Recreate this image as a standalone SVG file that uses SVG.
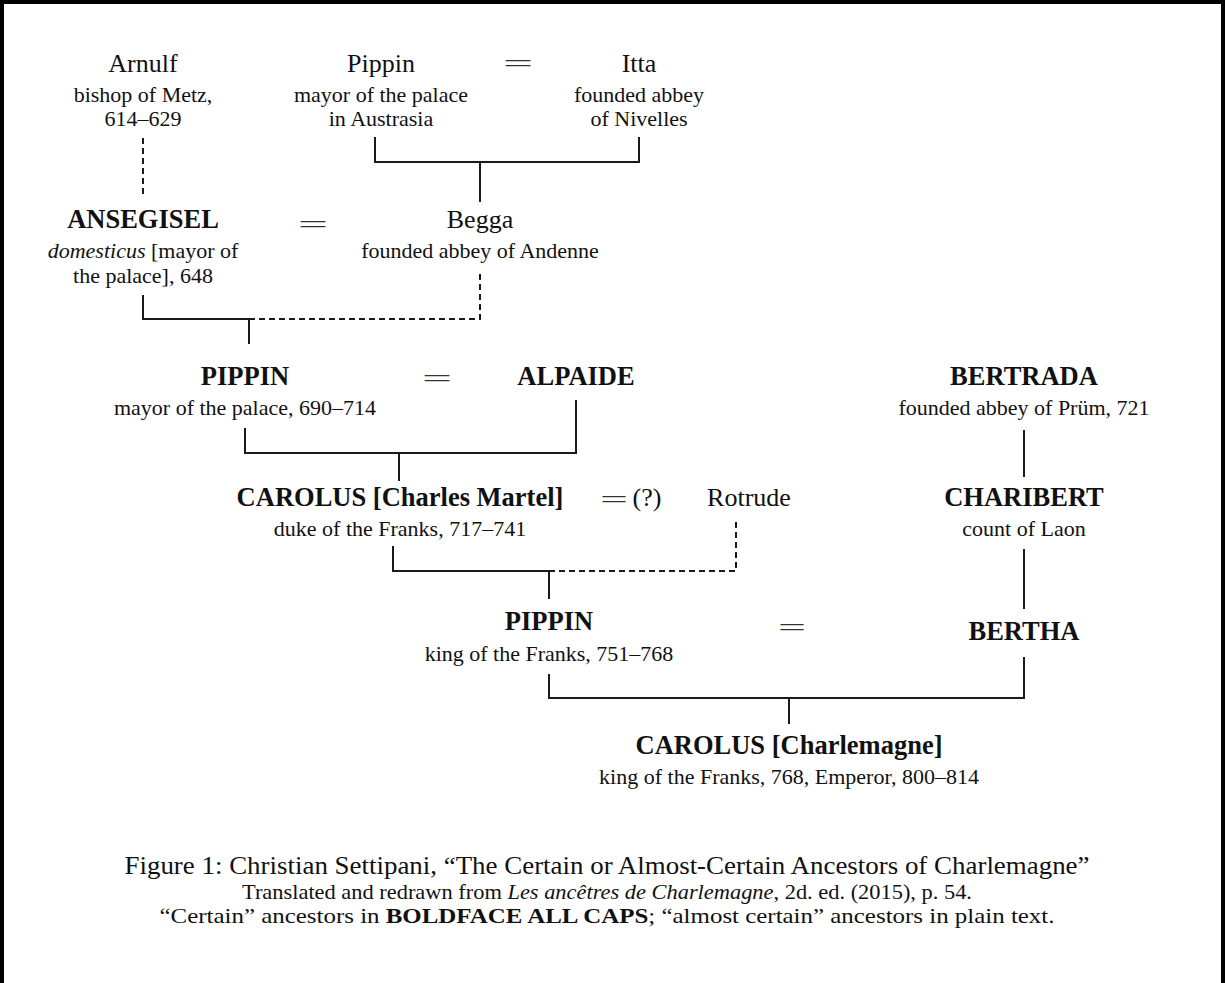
<svg xmlns="http://www.w3.org/2000/svg" width="1225" height="983" viewBox="0 0 1225 983">
<style>
text{font-family:"Liberation Serif","Times New Roman",serif;fill:#111;text-anchor:middle}
.n{font-size:26px}
.b{font-size:26.5px;font-weight:bold}
.s{font-size:22px}
.eq{font-size:26px;fill:#333}
.c1{font-size:25px}
.c2{font-size:21.5px}
.ln{fill:none;stroke:#1a1a1a;stroke-width:2}
.ds{fill:none;stroke:#1a1a1a;stroke-width:2;stroke-dasharray:6 4}
.frame{fill:none;stroke:#000;stroke-width:8}
</style>
<rect width="1225" height="983" fill="#fff"/>
<path class="frame" d="M0,1000 V0 H1225 V1000"/>

<g id="connectors">
  <path class="ds" d="M143,138 V198"/>
  <path class="ln" d="M375,137 V162 H639 V137 M480,162 V202"/>
  <path class="ln" d="M143,295 V319 H249 M249,319 V344"/>
  <path class="ds" d="M249,319 H480 V270"/>
  <path class="ln" d="M245,428 V453 H576 V400 M399,453 V481"/>
  <path class="ln" d="M393,546 V571 H549 M549,571 V599"/>
  <path class="ds" d="M549,571 H736 V522"/>
  <path class="ln" d="M1024,430 V477 M1024,549 V609"/>
  <path class="ln" d="M549,674 V698 H1024 V657 M789,698 V724"/>
</g>

<g id="marriages">
  <text class="eq" x="518" y="72" textLength="30" lengthAdjust="spacingAndGlyphs">=</text>
  <text class="eq" x="313" y="233" textLength="30" lengthAdjust="spacingAndGlyphs">=</text>
  <text class="eq" x="437" y="387" textLength="30" lengthAdjust="spacingAndGlyphs">=</text>
  <text class="eq" x="614" y="508" textLength="28" lengthAdjust="spacingAndGlyphs">=</text>
  <text class="n" x="647" y="506">(?)</text>
  <text class="eq" x="792" y="636" textLength="28" lengthAdjust="spacingAndGlyphs">=</text>
</g>

<g id="arnulf">
  <text class="n" x="143" y="72">Arnulf</text>
  <text class="s" x="143" y="102">bishop of Metz,</text>
  <text class="s" x="143" y="126">614–629</text>
</g>
<g id="pippin1">
  <text class="n" x="381" y="72">Pippin</text>
  <text class="s" x="381" y="102">mayor of the palace</text>
  <text class="s" x="381" y="126">in Austrasia</text>
</g>
<g id="itta">
  <text class="n" x="639" y="72">Itta</text>
  <text class="s" x="639" y="102">founded abbey</text>
  <text class="s" x="639" y="126">of Nivelles</text>
</g>
<g id="ansegisel">
  <text class="b" x="143" y="228">ANSEGISEL</text>
  <text class="s" x="143" y="258"><tspan font-style="italic">domesticus</tspan> [mayor of</text>
  <text class="s" x="143" y="283">the palace], 648</text>
</g>
<g id="begga">
  <text class="n" x="480" y="228">Begga</text>
  <text class="s" x="480" y="258">founded abbey of Andenne</text>
</g>
<g id="pippin2">
  <text class="b" x="245" y="385">PIPPIN</text>
  <text class="s" x="245" y="415">mayor of the palace, 690–714</text>
</g>
<g id="alpaide">
  <text class="b" x="576" y="385">ALPAIDE</text>
</g>
<g id="bertrada">
  <text class="b" x="1024" y="385">BERTRADA</text>
  <text class="s" x="1024" y="415">founded abbey of Prüm, 721</text>
</g>
<g id="charles-martel">
  <text class="b" x="400" y="506">CAROLUS [Charles Martel]</text>
  <text class="s" x="400" y="536">duke of the Franks, 717–741</text>
</g>
<g id="rotrude">
  <text class="n" x="749" y="506">Rotrude</text>
</g>
<g id="charibert">
  <text class="b" x="1024" y="506">CHARIBERT</text>
  <text class="s" x="1024" y="536">count of Laon</text>
</g>
<g id="pippin3">
  <text class="b" x="549" y="630">PIPPIN</text>
  <text class="s" x="549" y="661">king of the Franks, 751–768</text>
</g>
<g id="bertha">
  <text class="b" x="1024" y="640">BERTHA</text>
</g>
<g id="charlemagne">
  <text class="b" x="789" y="754">CAROLUS [Charlemagne]</text>
  <text class="s" x="789" y="784">king of the Franks, 768, Emperor, 800–814</text>
</g>

<g id="caption">
  <text class="c1" x="607" y="874" textLength="965" lengthAdjust="spacingAndGlyphs">Figure 1: Christian Settipani, “The Certain or Almost-Certain Ancestors of Charlemagne”</text>
  <text class="c2" x="607" y="899" textLength="730" lengthAdjust="spacingAndGlyphs">Translated and redrawn from <tspan font-style="italic">Les ancêtres de Charlemagne</tspan>, 2d. ed. (2015), p. 54.</text>
  <text class="c2" x="607" y="923" textLength="895" lengthAdjust="spacingAndGlyphs">“Certain” ancestors in <tspan font-weight="bold">BOLDFACE ALL CAPS</tspan>; “almost certain” ancestors in plain text.</text>
</g>
</svg>
